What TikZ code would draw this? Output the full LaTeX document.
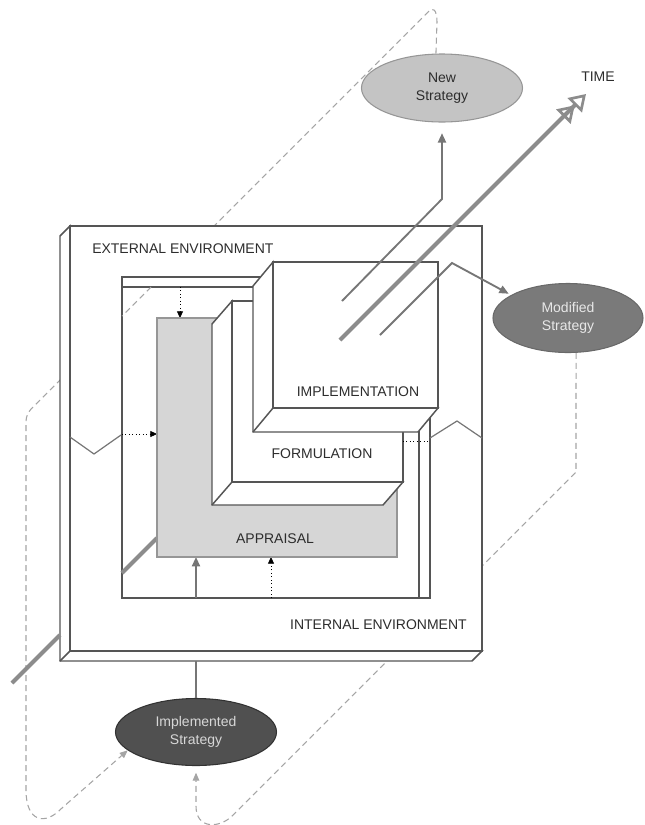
\documentclass[tikz,border=0pt]{standalone}
\usepackage{fontspec}
\setmainfont{Liberation Sans}
\usetikzlibrary{shapes.geometric}
\usetikzlibrary{arrows.meta}

\begin{document}
\begin{tikzpicture}[x=0.75pt,y=0.75pt,yscale=-1,xscale=1,
    frame/.style={draw={rgb, 255:red, 85; green, 85; blue, 85 }, line width=1.1pt},
    solid/.style={frame, fill=white},
    lbl/.style={inner sep=0.75pt, font=\fontsize{10.5}{13.5}\selectfont, text={rgb, 255:red, 45; green, 45; blue, 45 }},
    strat/.style={ellipse, align=center, inner sep=0pt, line width=0.8pt, font=\fontsize{10.5}{13.5}\selectfont},
    loopdash/.style={draw={rgb, 255:red, 165; green, 165; blue, 165 }, line width=0.8pt, dash pattern=on 4.5pt off 3pt, -{Triangle[length=6pt,width=5pt]}},
    feed/.style={draw={rgb, 255:red, 118; green, 118; blue, 118 }, line width=1.4pt},
    feedtip/.style={feed, -{Triangle[length=7pt,width=6pt]}},
    timeline/.style={draw={rgb, 255:red, 140; green, 140; blue, 140 }, line width=3pt},
    dotarrow/.style={draw=black, line width=0.6pt, dotted, -{Triangle[length=5pt,width=4.5pt]}}
  ]
  \useasboundingbox (0,0) rectangle (644,825);

  %Shape: Ellipse - strategies
  \node [strat, fill={rgb, 255:red, 196; green, 196; blue, 196 }, draw={rgb, 255:red, 150; green, 150; blue, 150 }, minimum width=120.75pt, minimum height=51pt, text={rgb, 255:red, 45; green, 45; blue, 45 }] (newstr) at (442,88) {New\\Strategy};
  \node [strat, fill={rgb, 255:red, 122; green, 122; blue, 122 }, draw={rgb, 255:red, 105; green, 105; blue, 105 }, minimum width=112.5pt, minimum height=51.75pt, text={rgb, 255:red, 232; green, 232; blue, 232 }] (modstr) at (568,318) {Modified\\Strategy};
  \node [strat, fill={rgb, 255:red, 80; green, 80; blue, 80 }, draw={rgb, 255:red, 50; green, 50; blue, 50 }, minimum width=120.75pt, minimum height=50.25pt, text={rgb, 255:red, 215; green, 215; blue, 215 }] (implstr) at (196,732) {Implemented\\Strategy};
  % Text Node
  \node [lbl] (timelbl) at (598,77) {TIME};

  %Dashed loops (pass behind the box)
  \draw [loopdash] (newstr.100) -- (437,22) .. controls (437,10) and (433,6) .. (428,12) -- (35,405) .. controls (28,412) and (26,414) .. (26,424) -- (26,790) .. controls (26,822) and (45,826) .. (62,808) -- (implstr.195);
  \draw [loopdash, shorten >=5pt] (modstr.283) -- (576,472) -- (232,816) .. controls (220,828) and (196,830) .. (196,806) -- (implstr.south);

  %Shape: Cube - external environment
  \draw [solid] (70,226) -- (60,236) -- (60,661) -- (472,661) -- (482,651) -- (70,651) -- cycle;
  \draw [solid] (70,226) rectangle (482,651);
  \draw [frame] (70,651) -- (60,661);
  % Text Node
  \node [lbl, anchor=west] (extlbl) at (91,249) {EXTERNAL ENVIRONMENT};
  \node [lbl, anchor=east] (intlbl) at (468,625) {INTERNAL ENVIRONMENT};

  %Shape: Rectangle - internal frame
  \draw [solid] (122,277) rectangle (430,598);
  \draw [frame] (122,287) -- (430,287) (419,287) -- (419,598);
  \draw [loopdash, -] (151,287) -- (122,316);
  \draw [timeline] (122,573) -- (157,538);

  %Straight Lines - zigzags and dotted arrows
  \draw [feed, line width=0.9pt] (70,437) -- (94,454) -- (121,435);
  \draw [feed, line width=0.9pt] (430,438) -- (457,421) -- (482,438);
  \draw [dotarrow] (122,434) -- (157,434);
  \draw [dotarrow] (180,287) -- (180,318);
  \draw [dotarrow] (271,598) -- (271,557);
  \draw [feedtip] (196,598) -- (196,557);

  %Shape: Rectangle - appraisal
  \draw [draw={rgb, 255:red, 150; green, 150; blue, 150 }, fill={rgb, 255:red, 214; green, 214; blue, 214 }, line width=0.8pt] (157,318) rectangle (397,557);
  \node [lbl] (apprlbl) at (275,539) {APPRAISAL};

  %Shape: Cube - formulation
  \draw [solid] (232,301) -- (212,324) -- (212,505) -- (383,505) -- (403,482) -- (232,482) -- cycle;
  \draw [solid] (232,301) rectangle (403,482);
  \draw [frame] (232,482) -- (212,505);
  \draw [dotarrow, -] (403,441) -- (430,441);
  \node [lbl] (formlbl) at (322,454) {FORMULATION};

  %Shape: Cube - implementation
  \draw [solid] (273,262) -- (253,286) -- (253,432) -- (418,432) -- (438,408) -- (273,408) -- cycle;
  \draw [solid] (273,262) rectangle (438,408);
  \draw [frame] (273,408) -- (253,432);
  \node [lbl] (impllbl) at (358,392) {IMPLEMENTATION};

  %Straight Lines - time and strategy outputs
  \draw [timeline, -{Triangle[open,length=12pt,width=15pt,line width=2pt] Triangle[open,length=12pt,width=15pt,line width=2pt]}] (340,340) -- (586,94);
  \draw [feedtip, shorten >=8pt] (342,301) -- (442,199) -- (newstr.south);
  \draw [feedtip, shorten >=2pt] (380,335) -- (452,263) -- (modstr.158);
  \draw [feed] (implstr.north) -- (196,661);
  \draw [timeline] (12,683) -- (60,635);
\end{tikzpicture}
\end{document}
